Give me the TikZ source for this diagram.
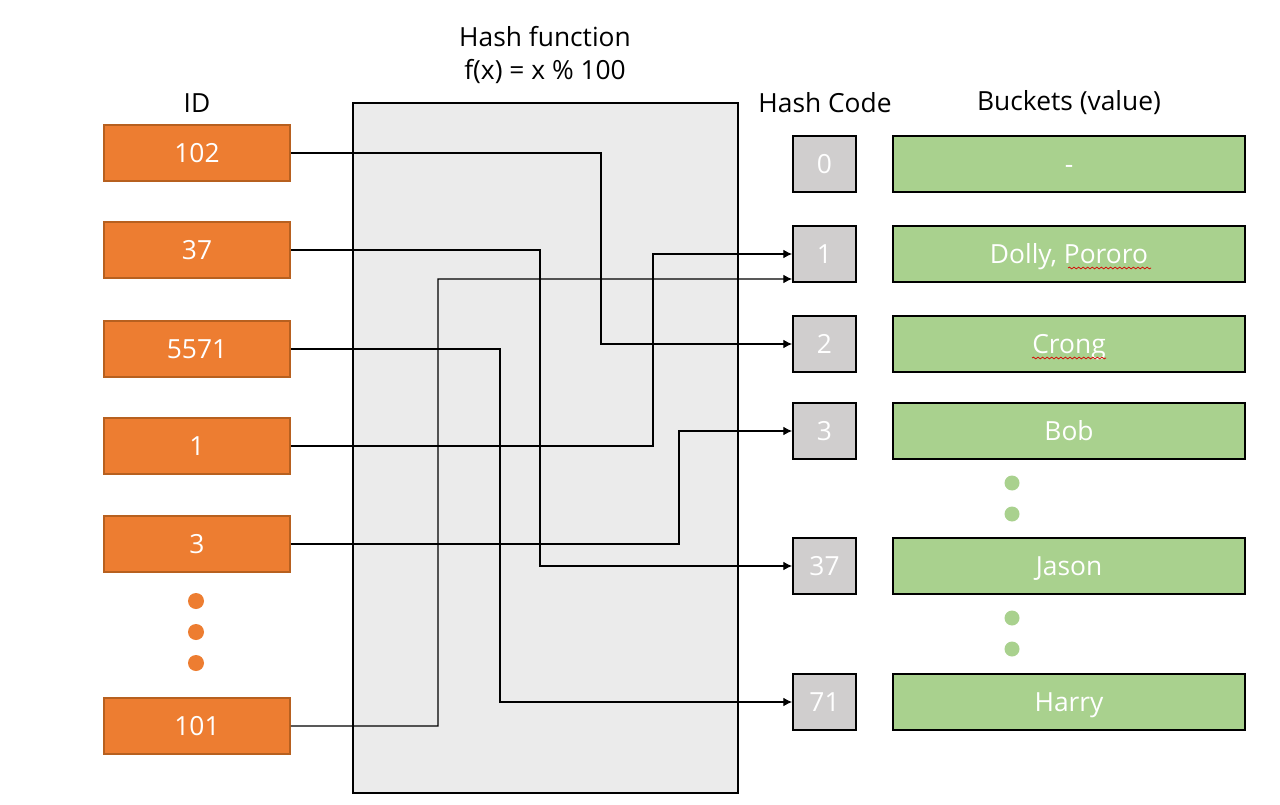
\documentclass[tikz,border=0pt]{standalone}
\usepackage{fontspec}
\setmainfont{Open Sans}
\usetikzlibrary{arrows.meta,decorations.pathmorphing}
\definecolor{idfill}{HTML}{ED7D31}
\definecolor{iddraw}{HTML}{B7601F}
\definecolor{hcfill}{HTML}{D0CECE}
\definecolor{bkfill}{HTML}{A9D18E}
\definecolor{hashfill}{HTML}{EBEBEB}
\begin{document}
\begin{tikzpicture}[x=0.02cm,y=-0.02cm,
  every node/.style={font=\fontsize{15}{18.7}\selectfont},
  boxtext/.style={text=white, inner sep=0pt, text height=10.7pt, text depth=0pt},
  idbox/.style={boxtext, draw=iddraw, fill=idfill, line width=0.9pt, minimum width=3.72cm, minimum height=1.12cm},
  hcbox/.style={boxtext, draw=black, fill=hcfill, line width=1.1pt, minimum width=1.26cm, minimum height=1.12cm},
  bkbox/.style={boxtext, draw=black, fill=bkfill, line width=1.1pt, minimum width=7.04cm, minimum height=1.12cm},
  hashbox/.style={draw=black, fill=hashfill, line width=1.1pt, minimum width=7.7cm, minimum height=13.8cm, inner sep=0pt},
  lbl/.style={text=black, inner sep=0pt},
  conn/.style={draw=black, line width=0.6pt, -{Latex[length=5pt,width=5pt]}},
  iddot/.style={fill=idfill, draw=none},
  bkdot/.style={fill=bkfill, draw=none},
  wavy/.style={draw=red!85!black, line width=0.4pt, decorate, decoration={snake, amplitude=0.5pt, segment length=2.6pt}}
]
\useasboundingbox[fill=white] (0,0) rectangle (1280,804);

% hash function box
\node[hashbox] (hash) at (545.5,448) {};
\node[lbl, align=center] (title) at (545,55) {Hash function\\f(x) = x \% 100};

% labels
\node[lbl] (idlbl) at (197,103) {ID};
\node[lbl] (hclbl) at (825,103) {Hash Code};
\node[lbl] (bklbl) at (1069,103) {Buckets (value)};

% ID boxes
\node[idbox] (i102) at (197,153) {102};
\node[idbox] (i37) at (197,250) {37};
\node[idbox] (i5571) at (197,349) {5571};
\node[idbox] (i1) at (197,446) {1};
\node[idbox] (i3) at (197,544) {3};
\node[idbox] (i101) at (197,726) {101};
\fill[iddot] (196,601) circle (0.16cm);
\fill[iddot] (196,632) circle (0.16cm);
\fill[iddot] (196,663) circle (0.16cm);

% hash codes
\node[hcbox] (h0) at (824.5,164) {0};
\node[hcbox] (h1) at (824.5,254) {1};
\node[hcbox] (h2) at (824.5,344) {2};
\node[hcbox] (h3) at (824.5,431) {3};
\node[hcbox] (h37) at (824.5,566) {37};
\node[hcbox] (h71) at (824.5,702) {71};

% buckets
\node[bkbox] (b0) at (1069,164) {-};
\node[bkbox] (b1) at (1069,254) {Dolly, Pororo};
\node[bkbox] (b2) at (1069,344) {Crong};
\node[bkbox] (b3) at (1069,431) {Bob};
\node[bkbox] (b37) at (1069,566) {Jason};
\node[bkbox] (b71) at (1069,702) {Harry};
\fill[bkdot] (1012,483) circle (0.15cm);
\fill[bkdot] (1012,514) circle (0.15cm);
\fill[bkdot] (1012,618) circle (0.15cm);
\fill[bkdot] (1012,649) circle (0.15cm);

% spell-check underlines
\draw[wavy] (1068,268) -- (1151,268);
\draw[wavy] (1032,358) -- (1106,358);

% bends
\coordinate (k102) at (601,344);
\coordinate (k37) at (540,566);
\coordinate (k5571) at (500,702);
\coordinate (k1) at (653,254);
\coordinate (k3) at (679,431);
\coordinate (k101) at (438,279);

% connectors
\draw[conn] (i102.east) -| (k102) -- (h2.west);
\draw[conn] (i37.east) -| (k37) -- (h37.west);
\draw[conn] (i5571.east) -| (k5571) -- (h71.west);
\draw[conn] (i1.east) -| (k1) -- (h1.west);
\draw[conn] (i3.east) -| (k3) -- (h3.west);
\draw[conn] (i101.east) -| (k101) -- ([yshift=-0.5cm]h1.west);
\end{tikzpicture}
\end{document}
